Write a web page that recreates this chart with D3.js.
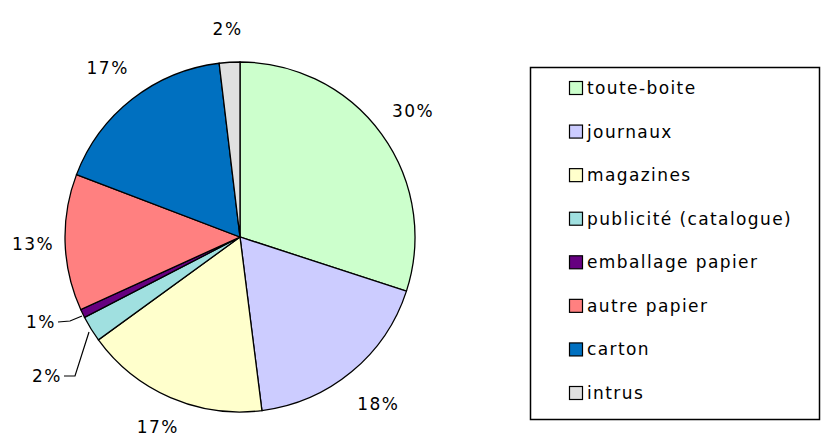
<!DOCTYPE html>
<html>
<head>
<meta charset="utf-8">
<script src="https://cdn.jsdelivr.net/npm/d3@7"></script>
<style>
  body { margin: 0; background: #fff; }
  text { font-family: "DejaVu Sans", sans-serif; fill: #000; }
</style>
</head>
<body>
<script>
let categories = ['toute-boite', 'journaux', 'magazines', 'publicité (catalogue)',
                  'emballage papier', 'autre papier', 'carton', 'intrus'];
let values = [30, 18, 17, 2.4, 0.8, 12.6, 17.3, 1.9];
let colors = ['#ccffcc', '#ccccff', '#ffffcc', '#a0e0e0', '#660080', '#ff8080', '#0070c0', '#e0e0e0'];

let width = 821;
let height = 437;
let cx = 240, cy = 237, r = 175;

let svg = d3.select('body').append('svg')
            .attr('width', width)
            .attr('height', height);

let data = categories.map((c, i) => ({name: c, value: values[i], color: colors[i]}));
let total = d3.sum(values);

let pie = d3.pie().value(d => d.value).sort(null);
let arcs = pie(data);
let arc = d3.arc().innerRadius(0).outerRadius(r);

let g = svg.append('g').attr('transform', `translate(${cx},${cy})`);

g.selectAll('path').data(arcs)
 .enter()
 .append('path')
 .attr('d', arc)
 .attr('fill', d => d.data.color)
 .attr('stroke', '#000')
 .attr('stroke-width', 1.3);

// label distance from centre along the slice mid angle
let labelR = [r + 39, r + 42, r + 32, r + 40, r + 40, r + 32, r + 40, r + 33];
let labelPos = arcs.map((a, i) => {
  let m = (a.startAngle + a.endAngle) / 2;
  return [Math.sin(m) * labelR[i], -Math.cos(m) * labelR[i]];
});
// publicité and emballage labels are pushed out to the left
labelPos[3] = [-193, 139];
labelPos[4] = [-199, 85];

let leaders = [
  {i: 3, pts: [[-176, 139], [-165, 139], [-151, 95]]},
  {i: 4, pts: [[-182, 85], [-170, 84], [-158, 79]]}
];
g.selectAll('polyline').data(leaders)
 .enter()
 .append('polyline')
 .attr('points', d => d.pts.map(p => p.join(',')).join(' '))
 .attr('fill', 'none')
 .attr('stroke', '#000')
 .attr('stroke-width', 1.2);

g.selectAll('text.lbl').data(arcs)
 .enter()
 .append('text')
 .attr('class', 'lbl')
 .attr('x', (d, i) => labelPos[i][0])
 .attr('y', (d, i) => labelPos[i][1])
 .attr('text-anchor', 'middle')
 .attr('dominant-baseline', 'central')
 .attr('font-size', '17px')
 .attr('letter-spacing', '1.5px')
 .text(d => Math.round(d.data.value / total * 100) + '%');

// legend
let legend = svg.append('g');
legend.append('rect')
      .attr('x', 530.5).attr('y', 67.5)
      .attr('width', 289).attr('height', 352)
      .attr('fill', '#fff')
      .attr('stroke', '#000')
      .attr('stroke-width', 1.5);

let ly = d3.scalePoint().domain(categories).range([88, 393]);

legend.selectAll('rect.sw').data(data)
      .enter()
      .append('rect')
      .attr('class', 'sw')
      .attr('x', 569.5)
      .attr('y', d => ly(d.name) - 6.5)
      .attr('width', 13)
      .attr('height', 13)
      .attr('fill', d => d.color)
      .attr('stroke', '#000')
      .attr('stroke-width', 1.2);

legend.selectAll('text').data(data)
      .enter()
      .append('text')
      .attr('x', 587)
      .attr('y', d => ly(d.name))
      .attr('dominant-baseline', 'central')
      .attr('font-size', '17px')
      .attr('letter-spacing', '1.4px')
      .text(d => d.name);
</script>
</body>
</html>
